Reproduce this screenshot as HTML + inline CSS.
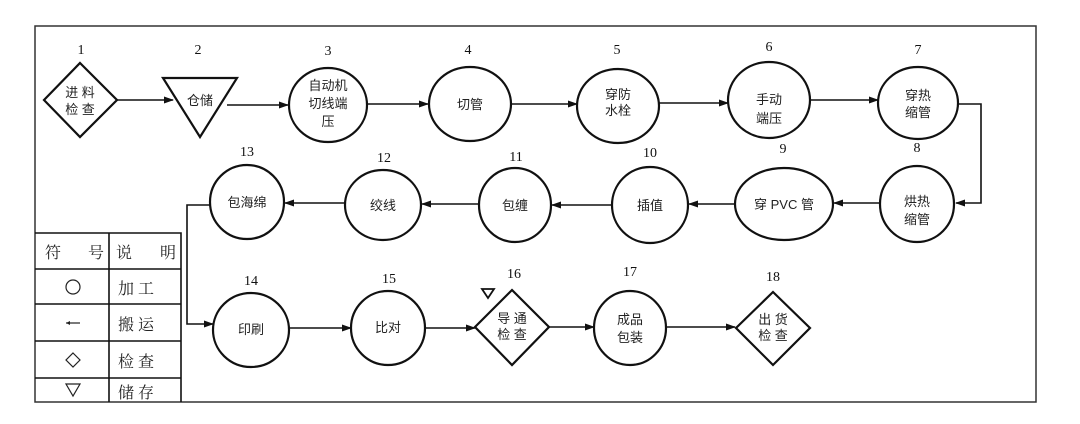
<!DOCTYPE html>
<html><head><meta charset="utf-8"><style>
html,body{margin:0;padding:0;background:#fff;}
svg{display:block;}
.t{font-family:"Liberation Sans","Noto Sans CJK SC",sans-serif;font-size:13px;fill:#222;text-anchor:middle;}
.n{font-family:"Liberation Serif","Noto Serif CJK SC",serif;font-size:14px;fill:#111;text-anchor:middle;}
.lg{font-family:"Liberation Serif","Noto Serif CJK SC",serif;font-size:16px;fill:#222;}
</style></head><body>
<svg width="1080" height="424" viewBox="0 0 1080 424" xmlns="http://www.w3.org/2000/svg">
<defs>
<marker id="a" markerWidth="10" markerHeight="8" refX="9" refY="4" orient="auto" markerUnits="userSpaceOnUse">
<path d="M0,0.5 L10,4 L0,7.5 Z" fill="#111"/></marker>
</defs>
<rect x="35" y="26" width="1001" height="376" fill="none" stroke="#333" stroke-width="1.5"/>
<g stroke="#111" stroke-width="2.2" fill="none">
<!-- row1 -->
<polygon points="80,63 117,100 80,137 44,100"/>
<polygon points="163,78 237,78 200,137"/>
<ellipse cx="328" cy="105" rx="39" ry="37"/>
<ellipse cx="470" cy="104" rx="41" ry="37"/>
<ellipse cx="618" cy="106" rx="41" ry="37"/>
<ellipse cx="769" cy="100" rx="41" ry="38"/>
<ellipse cx="918" cy="103" rx="40" ry="36"/>
<!-- row2 -->
<ellipse cx="917" cy="204" rx="37" ry="38"/>
<ellipse cx="784" cy="204" rx="49" ry="36"/>
<ellipse cx="650" cy="205" rx="38" ry="38"/>
<ellipse cx="515" cy="205" rx="36" ry="37"/>
<ellipse cx="383" cy="205" rx="38" ry="35"/>
<ellipse cx="247" cy="202" rx="37" ry="37"/>
<!-- row3 -->
<ellipse cx="251" cy="330" rx="38" ry="37"/>
<ellipse cx="388" cy="328" rx="37" ry="37"/>
<polygon points="512,290 549,327 512,365 475,327"/>
<ellipse cx="630" cy="328" rx="36" ry="37"/>
<polygon points="773,292 810,328 773,365 736,328"/>
</g>
<polygon points="482,289 494,289 488,298" fill="none" stroke="#111" stroke-width="1.8"/>
<g stroke="#111" stroke-width="1.6" fill="none" marker-end="url(#a)">
<line x1="117" y1="100" x2="173" y2="100"/>
<line x1="227" y1="105" x2="288" y2="105"/>
<line x1="367" y1="104" x2="428" y2="104"/>
<line x1="511" y1="104" x2="577" y2="104"/>
<line x1="659" y1="103" x2="728" y2="103"/>
<line x1="810" y1="100" x2="878" y2="100"/>
<polyline points="958,104 981,104 981,203 956,203"/>
<line x1="880" y1="203" x2="834" y2="203"/>
<line x1="735" y1="204" x2="689" y2="204"/>
<line x1="612" y1="205" x2="552" y2="205"/>
<line x1="479" y1="204" x2="422" y2="204"/>
<line x1="345" y1="203" x2="285" y2="203"/>
<polyline points="211,205 187,205 187,324 213,324"/>
<line x1="289" y1="328" x2="351" y2="328"/>
<line x1="425" y1="328" x2="475" y2="328"/>
<line x1="549" y1="327" x2="594" y2="327"/>
<line x1="667" y1="327" x2="735" y2="327"/>
</g>
<!-- numbers -->
<g class="n">
<text x="81" y="54">1</text><text x="198" y="54">2</text><text x="328" y="55">3</text>
<text x="468" y="54">4</text><text x="617" y="54">5</text><text x="769" y="51">6</text>
<text x="918" y="54">7</text><text x="917" y="152">8</text><text x="783" y="153">9</text>
<text x="650" y="157">10</text><text x="516" y="161">11</text><text x="384" y="162">12</text>
<text x="247" y="156">13</text><text x="251" y="285">14</text><text x="389" y="283">15</text>
<text x="514" y="278">16</text><text x="630" y="276">17</text><text x="773" y="281">18</text>
</g>
<!-- labels -->
<g class="t">
<text x="80" y="97">进 料</text><text x="80" y="114">检 查</text>
<text x="200" y="105">仓储</text>
<text x="328" y="90">自动机</text><text x="328" y="108">切线端</text><text x="328" y="126">压</text>
<text x="470" y="109">切管</text>
<text x="618" y="99">穿防</text><text x="618" y="115">水栓</text>
<text x="769" y="104">手动</text><text x="769" y="123">端压</text>
<text x="918" y="100">穿热</text><text x="918" y="117">缩管</text>
<text x="917" y="206">烘热</text><text x="917" y="224">缩管</text>
<text x="784" y="209">穿 PVC 管</text>
<text x="650" y="210">插值</text>
<text x="515" y="210">包缠</text>
<text x="383" y="210">绞线</text>
<text x="247" y="207">包海绵</text>
<text x="251" y="334">印刷</text>
<text x="388" y="332">比对</text>
<text x="512" y="323">导 通</text><text x="512" y="339">检 查</text>
<text x="630" y="324">成品</text><text x="630" y="342">包装</text>
<text x="773" y="324">出 货</text><text x="773" y="340">检 查</text>
</g>
<!-- legend -->
<g stroke="#111" stroke-width="1.6" fill="none">
<polyline points="35,233 181,233 181,402"/>
<line x1="109" y1="233" x2="109" y2="402"/>
<line x1="35" y1="269" x2="181" y2="269"/>
<line x1="35" y1="304" x2="181" y2="304"/>
<line x1="35" y1="341" x2="181" y2="341"/>
<line x1="35" y1="378" x2="181" y2="378"/>
</g>
<g class="lg">
<text x="45" y="258">符</text><text x="88" y="258">号</text>
<text x="116" y="258">说</text><text x="160" y="258">明</text>
<text x="118" y="294">加 工</text>
<text x="118" y="330">搬 运</text>
<text x="118" y="367">检 查</text>
<text x="118" y="398">储 存</text>
</g>
<circle cx="73" cy="287" r="7" fill="none" stroke="#222" stroke-width="1.2"/>
<line x1="66" y1="323" x2="80" y2="323" stroke="#222" stroke-width="1.2"/>
<path d="M66,323 L70,321 L70,325 Z" fill="#222"/>
<polygon points="73,353 80,360 73,367 66,360" fill="none" stroke="#222" stroke-width="1.2"/>
<polygon points="66,384 80,384 73,396" fill="none" stroke="#222" stroke-width="1.2"/>
</svg>
</body></html>
